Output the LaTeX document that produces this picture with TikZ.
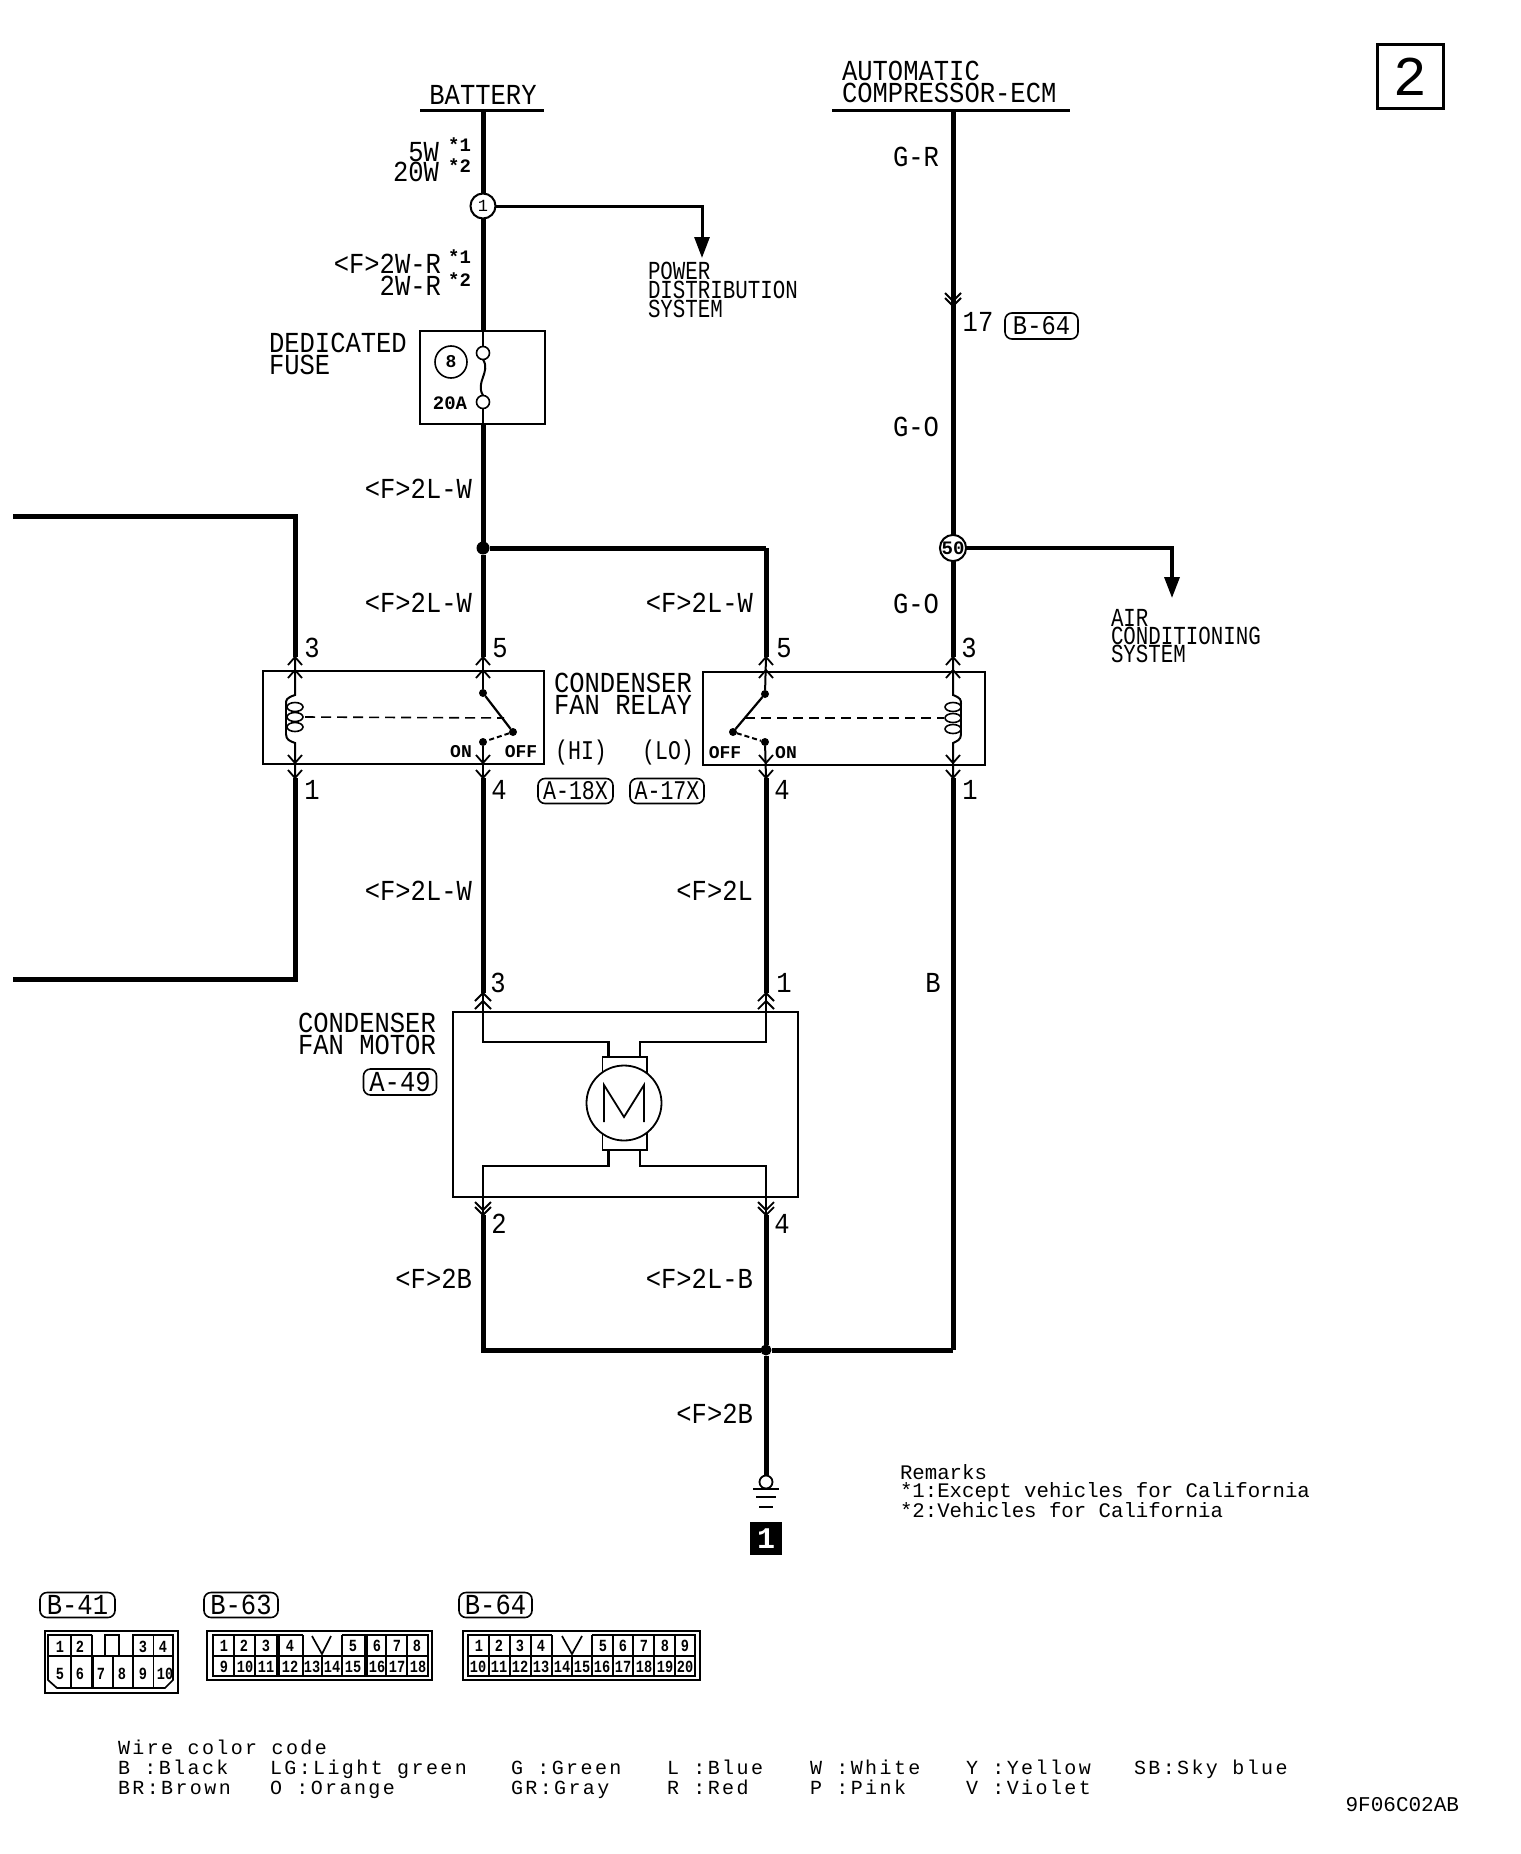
\documentclass[tikz,border=0pt]{standalone}
\usepackage{fontspec}
\usetikzlibrary{arrows.meta}
\setmainfont{Liberation Mono}
\newfontfamily\fbig[FakeStretch=0.88]{Liberation Mono}
\newfontfamily\fnar[FakeStretch=0.8]{Liberation Mono}
\newfontfamily\fnum[FakeStretch=0.8]{Liberation Mono}
\newfontfamily\fsp[LetterSpace=12]{Liberation Mono}
\newfontfamily\fpl{Liberation Mono}
\newcommand\dblup[2]{\draw[chev,shift={(#1,#2)}] (-7,8)--(0,0)--(7,8) (-7,21)--(0,13)--(7,21);}
\newcommand\dbldn[2]{\draw[chev,shift={(#1,#2)}] (-7,-8)--(0,0)--(7,-8) (-7,-23)--(0,-15)--(7,-23);}
\newcommand\mup[2]{\draw[chev,shift={(#1,#2)}] (-8,8)--(0,0)--(8,8) (-8,16)--(0,8)--(8,16);}
\newcommand\mdn[2]{\draw[chev,shift={(#1,#2)}] (-8,-13)--(0,-5)--(8,-13) (-8,-8)--(0,0)--(8,-8);}
\tikzset{
 every node/.style={inner sep=0pt,outer sep=0pt},
 wire/.style={line width=5pt},
 medwire/.style={line width=3pt},
 thinw/.style={line width=2pt},
 chev/.style={line width=1.8pt},
 boxl/.style={line width=1.8pt},
 lab/.style={font=\fbig\fontsize{29}{22}\selectfont,align=left},
 labr/.style={lab,anchor=east,align=right},
 labl/.style={lab,anchor=west},
 nar/.style={font=\fnar\fontsize{27}{27}\selectfont},
 star/.style={font=\fpl\bfseries\fontsize{19}{23}\selectfont},
 bold/.style={font=\fpl\bfseries\fontsize{18}{18}\selectfont},
 tag/.style={draw,line width=1.6pt,rounded corners=7pt,minimum height=25pt},
 splice/.style={draw,circle,line width=2pt,minimum size=25pt,fill=white,font=\fpl\fontsize{17}{17}\selectfont},
 term/.style={draw,circle,line width=1.6pt,minimum size=13pt,fill=white},
 rect/.style={draw,boxl,rectangle},
 wc/.style={font=\fsp\fontsize{20}{20}\selectfont,align=left,anchor=base west},
 pin/.style={font=\fnum\bfseries\fontsize{17}{17}\selectfont},
 dot/.style={fill=black,circle,minimum size=8pt},
 cell/.style={line width=1.7pt},
}
\begin{document}
\begin{tikzpicture}[x=1pt,y=-1pt]
\useasboundingbox (0,0) rectangle (1520,1854);
\fill[white] (0,0) rectangle (1520,1854);

% page tag
\node[rect,line width=3pt,minimum width=66pt,minimum height=64pt,font=\fpl\fontsize{56}{56}\selectfont] (page) at (1410,77) {2};

% top supplies
\node[lab,anchor=base] (batt) at (483,105) {BATTERY};
\node[lab,anchor=west] (ecm) at (842,82) {AUTOMATIC\\COMPRESSOR-ECM};
\coordinate (bl) at (420,111); \coordinate (br) at (544,111);
\coordinate (el) at (832,111); \coordinate (er) at (1070,111);
\draw[medwire] (bl) -- (br);
\draw[medwire] (el) -- (er);
\coordinate (bw) at (483,111); \coordinate (ew) at (953,111);

% splices
\node[splice] (n1) at (483,206) {1};
\node[splice,font=\fpl\bfseries\fontsize{19}{19}\selectfont] (n50) at (953,548) {50};
\coordinate (pd) at (702,258);
\coordinate (ac) at (1172,598);
\draw[wire] (bw) -- (n1);
\draw[medwire,-{Triangle[length=21pt,width=15pt]}] (n1) -| (pd);
\draw[medwire,line width=3.4pt,-{Triangle[length=21pt,width=15pt]}] (n50) -| (ac);
\node[labl,font=\fnar\fontsize{26}{17}\selectfont] (pdt) at (648,290) {POWER\\DISTRIBUTION\\SYSTEM};
\node[labl,font=\fnar\fontsize{26}{18}\selectfont] (act) at (1111,636) {AIR\\CONDITIONING\\SYSTEM};

% top labels
\node[labr] (w5w) at (439,152) {5W};
\node[star,anchor=east] (s1) at (471,145) {*1};
\node[labr] (w20w) at (439,172) {20W};
\node[star,anchor=east] (s2) at (471,166) {*2};
\node[labr] (w2r) at (441,264) {<F>2W-R};
\node[star,anchor=east] (s3) at (471,257) {*1};
\node[labr] (w2r2) at (441,286) {2W-R};
\node[star,anchor=east] (s4) at (471,280) {*2};

% fuse
\node[rect,minimum width=125pt,minimum height=93pt] (fuse) at (482.5,377.5) {};
\node[labl,font=\fbig\fontsize{29}{22}\selectfont] (fuset) at (269,354) {DEDICATED\\FUSE};
\node[draw,circle,line width=1.6pt,minimum size=32pt,font=\fpl\bfseries\fontsize{18}{18}\selectfont] (f8) at (451,362) {8};
\node[bold,font=\fpl\bfseries\fontsize{19}{19}\selectfont] (f20) at (450,403) {20A};
\coordinate (ft) at (483,331); \coordinate (fb) at (483,424);
\draw[wire] (n1) -- (ft);
\node[term] (ca) at (483,353) {};
\node[term] (cb) at (483,402) {};
\draw[thinw] (ft) -- (ca);
\draw[thinw] (cb) -- (fb);
\draw[thinw] (ca.south) .. controls (491,372) and (475,382) .. (cb.north);

% main junction
\node[dot,minimum size=13pt] (j1) at (483,548) {};
\coordinate (b5) at (766,548);
\draw[wire] (fb) -- (j1);
\draw[wire] (j1) -- (b5);

% wire labels upper
\node[labr] (w1) at (472,489) {<F>2L-W};
\node[labr] (w2) at (472,603) {<F>2L-W};
\node[labr] (w3) at (753,603) {<F>2L-W};
\node[lab,anchor=center] (gr) at (916,157) {G-R};
\node[lab,anchor=center] (go1) at (916,427) {G-O};
\node[lab,anchor=center] (go2) at (916,604) {G-O};
\node[lab,anchor=center] (n17) at (978,322) {17};
\node[tag,minimum width=73pt,minimum height=26pt,font=\fbig\fontsize{27}{27}\selectfont] (b64t) at (1041.5,326) {B-64};

% left hi loop
\coordinate (l0) at (13,516); \coordinate (l1) at (295,516);
\coordinate (r0) at (13,979); \coordinate (r1) at (295,979);
\coordinate (p3l) at (295,657); \coordinate (p5l) at (483,657);
\coordinate (p5r) at (766,657); \coordinate (p3r) at (953,657);
\coordinate (p1l) at (295,778); \coordinate (p4l) at (483,778);
\coordinate (p4r) at (766,778); \coordinate (p1r) at (953,778);
\draw[wire] (l0) -- (l1) -- (p3l);
\draw[wire] (j1) -- (p5l);
\draw[wire] (b5) -- (p5r);
\draw[wire] (ew) -- (n50);
\draw[wire] (n50) -- (p3r);
\draw[wire] (p1l) -- (r1) -- (r0);
\mdn{953}{306}

% relays
\node[rect,minimum width=281pt,minimum height=93pt] (rl) at (403.5,717.5) {};
\node[rect,minimum width=282pt,minimum height=93pt] (rr) at (844,718.5) {};
\node[labl] (rlt) at (554,694) {CONDENSER\\FAN RELAY};

\foreach \x in {295,483,766,953}{ \dblup{\x}{657} \dbldn{\x}{778} }

% left coil
\coordinate (lc1) at (295,657); \coordinate (lc2) at (295,778);
\draw[thinw] (lc1) -- (295,695) .. controls (286,698) and (286,700) .. (286,704);
\draw[thinw] (286,734) .. controls (286,740) and (290,741) .. (295,743) -- (lc2);
\draw[thinw] (286,704) -- (286,734);
\draw[line width=1.6pt] (295,707) ellipse [x radius=8pt,y radius=4.5pt];
\draw[line width=1.6pt] (295,717) ellipse [x radius=8pt,y radius=4.5pt];
\draw[line width=1.6pt] (295,727) ellipse [x radius=8pt,y radius=4.5pt];
\draw[line width=1.6pt,dashed,dash pattern=on 10pt off 6pt] (305,717) -- (504,718);

% left switch
\node[dot] (ls1) at (483,693) {};
\node[dot] (ls2) at (513,732) {};
\node[dot] (ls3) at (483,742) {};
\draw[thinw] (p5l) -- (ls1);
\draw[line width=2.2pt] (ls1) -- (ls2);
\draw[thinw] (ls3) -- (p4l);
\draw[thinw,dashed,dash pattern=on 5pt off 3pt] (ls2) -- (ls3);
\node[bold] (on1) at (461,752) {ON};
\node[bold] (off1) at (521,752) {OFF};

% right coil
\coordinate (rc1) at (953,657); \coordinate (rc2) at (953,778);
\draw[thinw] (rc1) -- (953,695) .. controls (961,698) and (961,700) .. (961,704);
\draw[thinw] (961,734) .. controls (961,740) and (957,741) .. (953,743) -- (rc2);
\draw[thinw] (961,704) -- (961,734);
\draw[line width=1.6pt] (953,707) ellipse [x radius=8pt,y radius=4.5pt];
\draw[line width=1.6pt] (953,718) ellipse [x radius=8pt,y radius=4.5pt];
\draw[line width=1.6pt] (953,729) ellipse [x radius=8pt,y radius=4.5pt];
\draw[line width=1.6pt,dashed,dash pattern=on 10pt off 6pt] (745,718) -- (944,718);

% right switch
\node[dot] (rs1) at (765,694) {};
\node[dot] (rs2) at (733,732) {};
\node[dot] (rs3) at (765,742) {};
\draw[thinw] (p5r) -- (rs1);
\draw[line width=2.2pt] (rs1) -- (rs2);
\draw[thinw] (rs3) -- (p4r);
\draw[thinw,dashed,dash pattern=on 5pt off 3pt] (rs2) -- (rs3);
\node[bold] (off2) at (725,753) {OFF};
\node[bold] (on2) at (786,753) {ON};

% pin numbers at relays
\node[lab] (t1) at (312,648) {3};
\node[lab] (t2) at (500,648) {5};
\node[lab] (t3) at (784,648) {5};
\node[lab] (t4) at (969,648) {3};
\node[lab] (t5) at (312,790) {1};
\node[lab] (t6) at (499,790) {4};
\node[lab] (t7) at (782,790) {4};
\node[lab] (t8) at (970,790) {1};
\node[nar] (hi) at (581,753) {(HI)};
\node[nar] (lo) at (668,753) {(LO)};
\node[tag,minimum width=75pt,nar] (a18) at (575.5,791) {A-18X};
\node[tag,minimum width=74pt,nar] (a17) at (667,791) {A-17X};

% relay to motor wires
\coordinate (m3) at (483,993); \coordinate (m1) at (766,993);
\coordinate (m2) at (483,1215); \coordinate (m4) at (766,1215);
\draw[wire] (p4l) -- (m3);
\draw[wire] (p4r) -- (m1);
\draw[wire] (p1r) -- (953,1350) coordinate (bb);
\node[labr] (w4) at (472,891) {<F>2L-W};
\node[labr] (w5) at (753,891) {<F>2L};
\node[lab] (wb) at (933,983) {B};
\node[lab] (t9) at (498,983) {3};
\node[lab] (t10) at (784,983) {1};

% motor
\node[rect,minimum width=345pt,minimum height=185pt,line width=2pt] (mot) at (625,1104.5) {};
\node[labl] (mott) at (298,1034) {CONDENSER\\FAN MOTOR};
\node[tag,minimum width=73pt,minimum height=26pt,font=\fbig\fontsize{29}{29}\selectfont] (a49) at (400,1082) {A-49};
\coordinate (mt3) at (483,1012); \coordinate (mt1) at (766,1012);
\coordinate (mb2) at (483,1197); \coordinate (mb4) at (766,1197);
\node[rect,minimum width=44.5pt,minimum height=93pt] (brush) at (624.7,1103.5) {};
\draw[line width=2.4pt] (m3) -- (mt3) |- (608.6,1042) -- (608.6,1057);
\draw[line width=2.4pt] (m1) -- (mt1) |- (640,1042) -- (640,1057);
\draw[line width=2.4pt] (m2) -- (mb2) |- (608.6,1166) -- (608.6,1150);
\draw[line width=2.4pt] (m4) -- (mb4) |- (640,1166) -- (640,1150);
\node[draw,circle,line width=1.8pt,fill=white,minimum size=75pt] (mc) at (624,1103) {};
\draw[line width=1.8pt] (604,1122) -- (604,1085) -- (624,1117) -- (644,1085) -- (644,1122);
\mup{483}{993} \mup{766}{993}
\mdn{483}{1215} \mdn{766}{1215}
\node[lab] (t11) at (499,1224) {2};
\node[lab] (t12) at (782,1224) {4};

% ground bus
\node[dot,minimum size=11pt] (j2) at (766,1350) {};
\coordinate (bl2) at (483,1350);
\coordinate (gnd) at (766,1476);
\draw[wire] (m2) -- (bl2) -- (j2);
\draw[wire] (m4) -- (j2);
\draw[wire] (j2) -- (bb);
\draw[wire] (j2) -- (gnd);
\node[labr] (w6) at (472,1279) {<F>2B};
\node[labr] (w7) at (753,1279) {<F>2L-B};
\node[labr] (w8) at (753,1414) {<F>2B};
\node[draw,circle,line width=1.8pt,minimum size=13pt,fill=white] (gc) at (766,1482) {};
\coordinate (g1a) at (753,1489); \coordinate (g1b) at (779,1489);
\coordinate (g2a) at (756,1497); \coordinate (g2b) at (776,1497);
\coordinate (g3a) at (759,1507); \coordinate (g3b) at (773,1507);
\draw[thinw] (g1a) -- (g1b);
\draw[thinw] (g2a) -- (g2b);
\draw[thinw] (g3a) -- (g3b);
\node[fill=black,text=white,minimum width=32pt,minimum height=33pt,font=\fpl\bfseries\fontsize{30}{30}\selectfont] (g1) at (766,1538.5) {1};

% remarks
\node[labl,font=\fpl\fontsize{20.7}{18}\selectfont] (rem) at (900,1491) {Remarks\\*1:Except vehicles for California\\*2:Vehicles for California};

% connector tags
\node[tag,minimum width=75pt,font=\fbig\fontsize{29}{29}\selectfont] (b41) at (77.5,1605) {B-41};
\node[tag,minimum width=74pt,font=\fbig\fontsize{29}{29}\selectfont] (b63) at (241,1605) {B-63};
\node[tag,minimum width=73pt,font=\fbig\fontsize{29}{29}\selectfont] (b64) at (495.5,1605) {B-64};

% B-41 block
\draw[boxl] (45,1631) rectangle (178,1693);
\draw[cell] (92,1635) -- (48,1635) -- (48,1680) -- (57,1688) -- (165,1688) -- (173,1680) -- (173,1635) -- (133,1635) -- (133,1656);
\draw[cell] (48,1656) -- (173,1656);
\draw[cell] (71,1635) -- (71,1688) (153.5,1635) -- (153.5,1688) (92,1635) -- (92,1688);
\draw[cell] (93,1656) -- (93,1688) (113,1656) -- (113,1688) (133,1656) -- (133,1688);
\draw[cell] (105,1656) -- (105,1635) -- (119,1635) -- (119,1656);
\foreach \n/\x in {1/60,2/80,3/143,4/163}{ \node[pin] (a\n) at (\x,1647) {\n}; }
\foreach \n/\x in {5/60,6/80,7/101,8/122,9/143,10/165}{ \node[pin] (a\n) at (\x,1674) {\n}; }

% B-63 block
\draw[boxl] (207,1631) rectangle (432,1680);
\draw[cell] (303,1635) -- (213,1635) -- (213,1676) -- (428,1676) -- (428,1635) -- (342,1635);
\draw[cell] (213,1656) -- (428,1656);
\foreach \x in {234,255,277,279,303,342,365,367,386,407}{ \draw[cell] (\x,1635) -- (\x,1676); }
\foreach \x in {322}{ \draw[cell] (\x,1656) -- (\x,1676); }
\draw[cell] (312,1636) -- (322,1654) -- (331,1636);
\foreach \n/\x in {1/224,2/244,3/266,4/290,5/353,6/377,7/397,8/417}{ \node[pin] (b\n) at (\x,1646) {\n}; }
\foreach \n/\x in {9/224,10/245,11/266,12/290,13/312,14/332,15/353,16/377,17/397,18/418}{ \node[pin] (bb\n) at (\x,1667) {\n}; }

% B-64 block
\draw[boxl] (463,1631) rectangle (700,1680);
\draw[cell] (552,1635) -- (468,1635) -- (468,1676) -- (695,1676) -- (695,1635) -- (592,1635);
\draw[cell] (468,1656) -- (695,1656);
\foreach \x in {489,510,531,552,592,613,633,654,675}{ \draw[cell] (\x,1635) -- (\x,1676); }
\draw[cell] (572,1656) -- (572,1676);
\draw[cell] (562,1636) -- (572,1654) -- (582,1636);
\foreach \n/\x in {1/479,2/499,3/520,4/541,5/603,6/623,7/644,8/665,9/685}{ \node[pin] (c\n) at (\x,1646) {\n}; }
\foreach \n/\x in {10/478,11/499,12/520,13/541,14/562,15/582,16/602,17/623,18/644,19/665,20/685}{ \node[pin] (cc\n) at (\x,1667) {\n}; }

% wire colour code
\node[wc] (wcc) at (118,1754) {Wire color code};
\node[wc] (c1) at (118,1794) {B :Black\\BR:Brown};
\node[wc] (c2) at (270,1794) {LG:Light green\\O :Orange};
\node[wc] (c3) at (511,1794) {G :Green\\GR:Gray};
\node[wc] (c4) at (667,1794) {L :Blue\\R :Red};
\node[wc] (c5) at (810,1794) {W :White\\P :Pink};
\node[wc] (c6) at (966,1794) {Y :Yellow\\V :Violet};
\node[wc] (c7) at (1134,1774) {SB:Sky blue};
\node[font=\fpl\fontsize{21}{21}\selectfont,anchor=east] (code) at (1459,1805) {9F06C02AB};
\end{tikzpicture}
\end{document}
